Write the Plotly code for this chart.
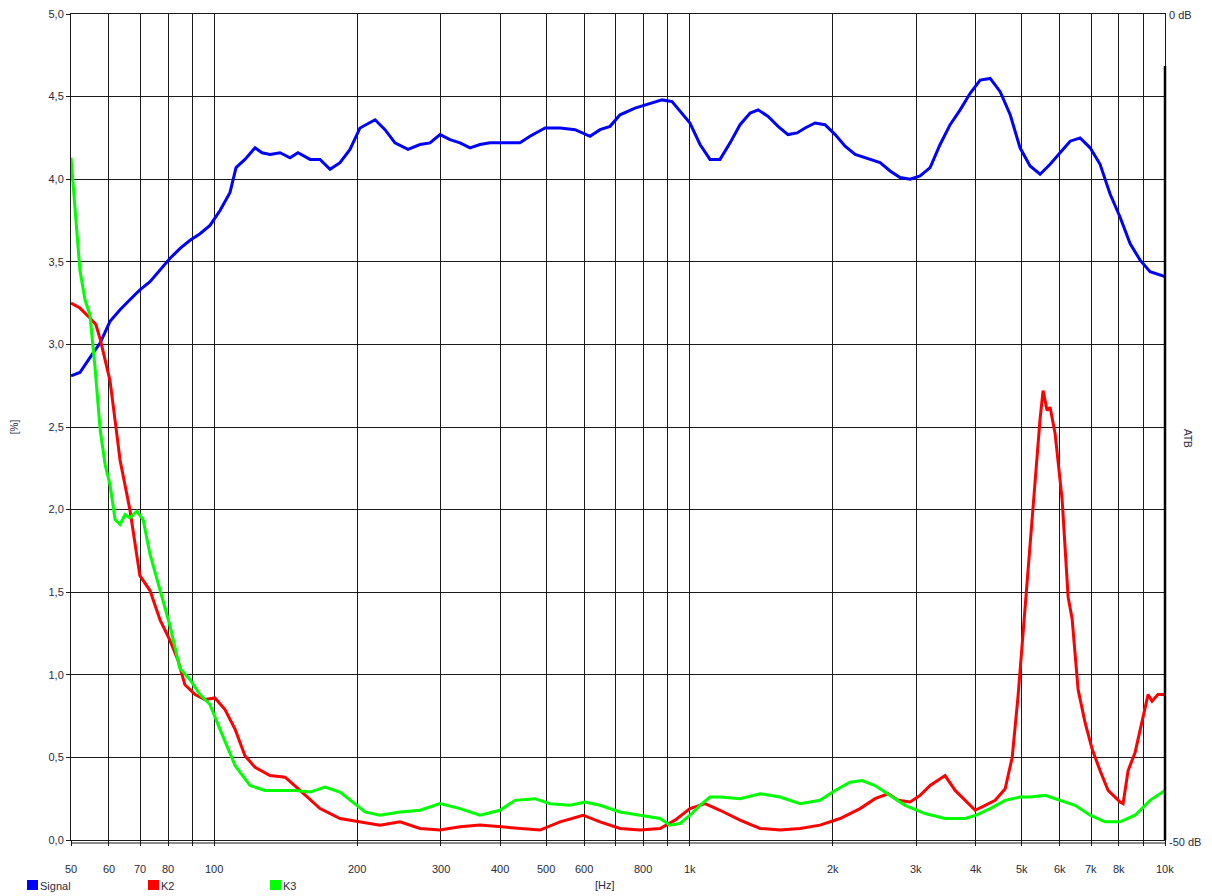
import math
import plotly.graph_objects as go

# ---- data ----
sig_f = [50, 52.2, 54.8, 57.6, 60.4, 63.4, 66.5, 69.8, 73.3, 77.0, 80.7, 84.7, 89.0, 93.4, 98.0,
         102.9, 108.0, 111.2, 116.1, 121.9, 126.1, 131.1, 137.6, 144.4, 150.1, 159.2, 167.0, 175.3,
         184.0, 193.1, 202.7, 218.0, 228.8, 240.1, 255.7, 271.1, 284.5, 298.6, 313.4, 329.0, 345.3,
         362.4, 380.4, 409.0, 439.9, 461.7, 496.7, 534.1, 574.3, 617.6, 648.2, 680.4, 714.1, 767.9,
         825.7, 875.2, 918.7, 964.2, 1002, 1052, 1104, 1159, 1217, 1277, 1341, 1394, 1463, 1535,
         1611, 1683, 1750, 1836, 1927, 2024, 2124, 2230, 2340, 2516, 2641, 2772, 2910, 3054, 3206,
         3365, 3532, 3708, 3892, 4085, 4288, 4501, 4725, 4956, 5202, 5461, 5732, 6017, 6316, 6628,
         6958, 7302, 7665, 8046, 8444, 8864, 9302, 10000]
sig_v = [2.81, 2.83, 2.92, 3.01, 3.14, 3.21, 3.27, 3.33, 3.38, 3.45, 3.52, 3.58, 3.63, 3.67, 3.72,
         3.81, 3.92, 4.07, 4.12, 4.19, 4.16, 4.15, 4.16, 4.13, 4.16, 4.12, 4.12, 4.06,
         4.10, 4.18, 4.31, 4.36, 4.30, 4.22, 4.18, 4.21, 4.22, 4.27, 4.24, 4.22, 4.19,
         4.21, 4.22, 4.22, 4.22, 4.26, 4.31, 4.31, 4.30, 4.26, 4.30, 4.32, 4.39, 4.43,
         4.46, 4.48, 4.47, 4.40, 4.34, 4.21, 4.12, 4.12, 4.22, 4.33, 4.40, 4.42, 4.38, 4.32,
         4.27, 4.28, 4.31, 4.34, 4.33, 4.27, 4.20, 4.15, 4.13, 4.10, 4.05, 4.01, 4.00, 4.02, 4.07,
         4.21, 4.33, 4.42, 4.52, 4.60, 4.61, 4.53, 4.39, 4.19, 4.08, 4.03, 4.09, 4.16, 4.23, 4.25,
         4.19, 4.09, 3.91, 3.77, 3.61, 3.51, 3.44, 3.41]

k2_f = [50, 52.2, 54.8, 56.4, 57.6, 60.4, 61.9, 63.4, 66.5, 68.2, 69.8, 73.3, 77.0, 80.7, 83.9,
        86.8, 91.2, 95.7, 100.4, 105.4, 110.7, 116.1, 121.9, 131.1, 141.0, 151.6, 167.0, 184.0,
        202.7, 223.3, 246.0, 271.1, 298.6, 329.0, 362.4, 399.2, 439.9, 484.6, 534.1, 597.0,
        648.2, 714.1, 786.7, 866.8, 932.1, 1002, 1078, 1159, 1277, 1407, 1550, 1708, 1881,
        2073, 2284, 2456, 2616, 2745, 2910, 3054, 3206, 3447, 3619, 3799, 3988, 4186, 4394,
        4611, 4771, 4908, 5077, 5202, 5330, 5461, 5541, 5649, 5732, 5873, 6076, 6255, 6377,
        6565, 6791, 7026, 7302, 7591, 7852, 8046, 8163, 8363, 8652, 8950, 9213, 9393, 9662, 10000]
k2_v = [3.25, 3.22, 3.16, 3.12, 3.03, 2.78, 2.54, 2.30, 2.00, 1.79, 1.60, 1.51, 1.33, 1.21, 1.09,
        0.94, 0.88, 0.85, 0.86, 0.79, 0.67, 0.51, 0.44, 0.39, 0.38, 0.30, 0.19, 0.13,
        0.11, 0.09, 0.11, 0.07, 0.06, 0.08, 0.09, 0.08, 0.07, 0.06, 0.11, 0.15,
        0.11, 0.07, 0.06, 0.07, 0.12, 0.19, 0.22, 0.18, 0.12, 0.07, 0.06, 0.07, 0.09,
        0.13, 0.19, 0.25, 0.28, 0.24, 0.23, 0.27, 0.33, 0.39, 0.30, 0.24, 0.18, 0.21, 0.24,
        0.31, 0.50, 0.87, 1.40, 1.80, 2.20, 2.55, 2.72, 2.60, 2.62, 2.46, 2.06, 1.47, 1.34,
        0.91, 0.71, 0.55, 0.42, 0.30, 0.26, 0.23, 0.22, 0.42, 0.53, 0.72, 0.88, 0.84, 0.88, 0.88]

k3_f = [50, 51.0, 52.2, 53.5, 54.8, 56.2, 57.6, 59.0, 60.4, 61.9, 63.4, 65.0, 66.5, 68.8, 70.9,
        73.3, 77.0, 80.7, 84.7, 89.0, 93.4, 98.0, 102.9, 110.7, 119.0, 127.9, 137.6, 148.0,
        159.2, 171.1, 184.0, 193.1, 207.7, 223.3, 246.0, 271.1, 298.6, 329.0, 362.4, 399.2,
        429.3, 473.0, 508.8, 560.5, 602.8, 648.2, 714.1, 786.7, 866.8, 909.8, 954.9, 1002,
        1052, 1104, 1159, 1277, 1407, 1550, 1708, 1881, 2024, 2176, 2306, 2456, 2641, 2840,
        3129, 3447, 3799, 4007, 4288, 4611, 4956, 5202, 5595, 6017, 6470, 6958, 7481, 8046,
        8652, 9302, 10000]
k3_v = [4.13, 3.81, 3.45, 3.27, 3.18, 2.85, 2.48, 2.27, 2.15, 1.94, 1.91, 1.97, 1.95, 1.99, 1.94,
        1.73, 1.51, 1.30, 1.04, 0.97, 0.88, 0.82, 0.67, 0.45, 0.33, 0.30, 0.30, 0.30,
        0.29, 0.32, 0.29, 0.24, 0.17, 0.15, 0.17, 0.18, 0.22, 0.19, 0.15, 0.18,
        0.24, 0.25, 0.22, 0.21, 0.23, 0.21, 0.17, 0.15, 0.13, 0.09, 0.10, 0.15,
        0.21, 0.26, 0.26, 0.25, 0.28, 0.26, 0.22, 0.24, 0.30, 0.35, 0.36, 0.33, 0.27, 0.21,
        0.16, 0.13, 0.13, 0.15, 0.19, 0.24, 0.26, 0.26, 0.27, 0.24, 0.21, 0.15, 0.11, 0.11,
        0.15, 0.24, 0.30]

x_grid = [50, 60, 70, 80, 90, 100, 200, 300, 400, 500, 600, 700, 800, 900, 1000,
          2000, 3000, 4000, 5000, 6000, 7000, 8000, 9000, 10000]
x_labels = ["50", "60", "70", "80", "", "100", "200", "300", "400", "500", "600", "", "800", "",
            "1k", "2k", "3k", "4k", "5k", "6k", "7k", "8k", "", "10k"]
y_ticks = [0, 0.5, 1.0, 1.5, 2.0, 2.5, 3.0, 3.5, 4.0, 4.5, 5.0]
y_labels = ["0,0", "0,5", "1,0", "1,5", "2,0", "2,5", "3,0", "3,5", "4,0", "4,5", "5,0"]

series = [("Signal", sig_f, sig_v, "#0000FF"),
          ("K2", k2_f, k2_v, "#FF0000"),
          ("K3", k3_f, k3_v, "#00FF00")]

FONT = "Liberation Sans, Arial, sans-serif"
TXT = "#2a2a3a"

W, H = 1212, 896
ML, MT = 71, 14
PW, PH = 1094, 826
MR = W - ML - PW
MB = H - MT - PH

fig = go.Figure()
for name, f, v, c in series:
    fig.add_trace(go.Scatter(x=f, y=v, mode="lines", name=name,
                             line=dict(color=c, width=3), showlegend=False))

fig.update_layout(
    width=W, height=H,
    margin=dict(l=ML, r=MR, t=MT, b=MB, autoexpand=False),
    paper_bgcolor="white", plot_bgcolor="white",
    font=dict(family=FONT, size=11, color=TXT),
    xaxis=dict(type="log", range=[math.log10(50), math.log10(10000)],
               tickvals=x_grid, ticktext=x_labels, showticklabels=False,
               showgrid=True, gridcolor="#1a1a1a", gridwidth=1,
               showline=True, linecolor="#1a1a1a", linewidth=1, mirror=True,
               ticks="outside", ticklen=5, tickcolor="#1a1a1a",
               zeroline=False, automargin=False),
    yaxis=dict(range=[0, 5], tickvals=y_ticks, ticktext=y_labels,
               showgrid=True, gridcolor="#1a1a1a", gridwidth=1,
               showline=True, linecolor="#1a1a1a", linewidth=1, mirror=True,
               ticks="outside", ticklen=4, tickcolor="#1a1a1a", zeroline=False,
               automargin=False,
               title=dict(text="[%]", standoff=28, font=dict(size=10, color=TXT)),
               tickfont=dict(family=FONT, size=11, color=TXT)),
)

def px_x(x):
    return (x - ML) / PW

def px_y(y):
    return 1 - (y - MT) / PH

# x tick labels placed on the log x scale (annotation x is log10 on log axes)
for fv, lab in zip(x_grid, x_labels):
    if lab:
        fig.add_annotation(xref="x", yref="paper", x=math.log10(fv), y=px_y(869), text=lab,
                           showarrow=False, xanchor="center", yanchor="middle",
                           font=dict(size=11, color=TXT))

# double bottom line and thick right segment
fig.add_shape(type="line", xref="paper", yref="paper", x0=0, x1=1, y0=px_y(843), y1=px_y(843),
              line=dict(color="#1a1a1a", width=1))
fig.add_shape(type="line", xref="paper", yref="paper", x0=1, x1=1, y0=0, y1=px_y(66),
              line=dict(color="#000000", width=2.5))

# right-hand labels
fig.add_annotation(xref="paper", yref="paper", x=px_x(1167), y=px_y(15), text="0 dB", showarrow=False,
                   xanchor="left", yanchor="middle", font=dict(size=11, color=TXT))
fig.add_annotation(xref="paper", yref="paper", x=px_x(1167), y=px_y(842), text="-50 dB", showarrow=False,
                   xanchor="left", yanchor="middle", font=dict(size=11, color=TXT))
fig.add_annotation(xref="paper", yref="paper", x=px_x(1188), y=px_y(438), text="ATB", showarrow=False,
                   textangle=90, xanchor="center", yanchor="middle", font=dict(size=10, color=TXT))
fig.add_annotation(xref="paper", yref="paper", x=px_x(605), y=px_y(885), text="[Hz]", showarrow=False,
                   xanchor="center", yanchor="middle", font=dict(size=11, color=TXT))

# custom legend
leg_x = [27, 148, 270]
for (name, _, _, c), lx in zip(series, leg_x):
    fig.add_shape(type="rect", xref="paper", yref="paper",
                  x0=px_x(lx), x1=px_x(lx + 11),
                  y0=px_y(880), y1=px_y(890),
                  fillcolor=c, line=dict(width=0))
    fig.add_annotation(xref="paper", yref="paper", x=px_x(lx + 11),
                       y=px_y(886), text=name, showarrow=False,
                       xanchor="left", yanchor="middle", font=dict(size=11, color=TXT))

fig.write_html(
    "out.html",
    config={"displayModeBar": False},
    post_script="document.body.style.margin='0';document.body.style.padding='0';"
                "document.body.style.overflow='hidden';",
)
